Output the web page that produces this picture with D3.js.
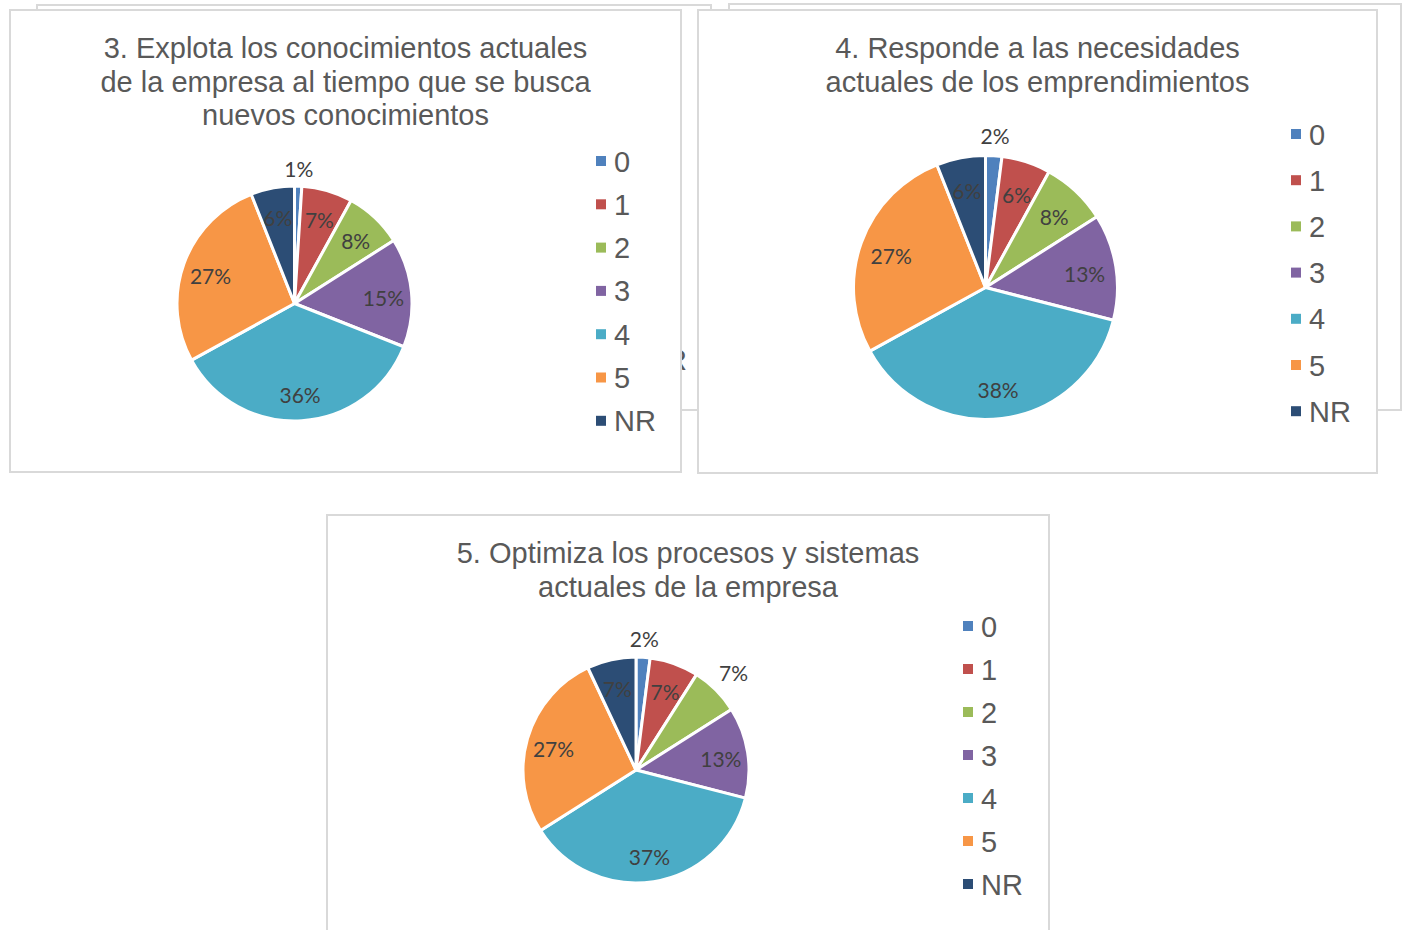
<!DOCTYPE html>
<html>
<head>
<meta charset="utf-8">
<script src="https://cdn.jsdelivr.net/npm/d3@7"></script>
<style>
body { margin: 0; background: #fff; }
</style>
</head>
<body>
<div id="chart"></div>
<script>
// categories and colours shared by the three pies
var categories = ["0", "1", "2", "3", "4", "5", "NR"];
var colors = ["#4F81BD", "#C0504D", "#9BBB59", "#8064A2", "#4BACC6", "#F79646", "#2C4D75"];

// percentages per question
var values3 = [1, 7, 8, 15, 36, 27, 6];
var values4 = [2, 6, 8, 13, 38, 27, 6];
var values5 = [2, 7, 7, 13, 37, 27, 7];

var title3 = ["3. Explota los conocimientos actuales", "de la empresa al tiempo que se busca", "nuevos conocimientos"];
var title4 = ["4. Responde a las necesidades", "actuales de los emprendimientos"];
var title5 = ["5. Optimiza los procesos y sistemas", "actuales de la empresa"];

var svg = d3.select("#chart").append("svg")
    .attr("width", 1405)
    .attr("height", 930);

var borderColor = "#d9d9d9";
var titleFont = "'Liberation Sans', Arial, sans-serif";
var labelFont = "Lato, 'Open Sans', sans-serif";

/*
 * frames of the charts lying behind, only edges and one legend entry peek out
 */
function drawBackFrame(x, y, w, h) {
    svg.append("rect")
        .attr("x", x).attr("y", y)
        .attr("width", w).attr("height", h)
        .attr("fill", "#fff")
        .attr("stroke", borderColor)
        .attr("stroke-width", 2);
}

drawBackFrame(37, 5, 674, 405);
svg.append("text")
    .attr("x", 645).attr("y", 370)
    .style("font-family", titleFont)
    .style("font-size", "29px")
    .attr("fill", "#595959")
    .text(categories[6]);
drawBackFrame(729, 4, 672, 406);

/**
 * draws one framed pie chart with title and legend
 */
function createPie(values, titleLines, opt) {
    var g = svg.append("g");

    g.append("rect")
        .attr("x", opt.frame[0]).attr("y", opt.frame[1])
        .attr("width", opt.frame[2]).attr("height", opt.frame[3])
        .attr("fill", "#fff")
        .attr("stroke", borderColor)
        .attr("stroke-width", 2);

    var titleX = opt.frame[0] + opt.frame[2] / 2;
    g.selectAll(".title")
        .data(titleLines)
        .enter().append("text")
        .attr("class", "title")
        .attr("x", titleX)
        .attr("y", function(d, i) { return opt.titleY + i * 33.5; })
        .attr("text-anchor", "middle")
        .style("font-family", titleFont)
        .style("font-size", "29px")
        .attr("fill", "#595959")
        .text(function(d) { return d; });

    var total = d3.sum(values);
    var pie = d3.pie().sort(null).value(function(d) { return d; });
    var arcs = pie(values);

    var arc = d3.arc().innerRadius(0).outerRadius(opt.r);
    var inLabel = d3.arc().innerRadius(opt.r * 0.76).outerRadius(opt.r * 0.76);

    var pieG = g.append("g")
        .attr("transform", "translate(" + opt.cx + "," + opt.cy + ")");

    pieG.selectAll(".slice")
        .data(arcs)
        .enter().append("path")
        .attr("class", "slice")
        .attr("d", arc)
        .attr("fill", function(d, i) { return colors[i]; })
        .attr("stroke", "#fff")
        .attr("stroke-width", 3)
        .attr("stroke-linejoin", "round");

    // small slices get their label outside the pie
    pieG.selectAll(".lbl")
        .data(arcs)
        .enter().append("text")
        .attr("class", "lbl")
        .attr("transform", function(d, i) {
            var p;
            if (opt.outside[i] !== undefined) {
                var rr = opt.r + opt.outside[i];
                p = d3.arc().innerRadius(rr).outerRadius(rr).centroid(d);
            } else {
                p = inLabel.centroid(d);
                p[1] += 2;
            }
            return "translate(" + p[0] + "," + p[1] + ")";
        })
        .attr("text-anchor", "middle")
        .attr("dominant-baseline", "central")
        .style("font-family", labelFont)
        .style("font-size", "21px")
        .attr("fill", "#404040")
        .text(function(d) { return d3.format(".0%")(d.data / total); });

    var legend = g.selectAll(".legend")
        .data(categories)
        .enter().append("g")
        .attr("class", "legend")
        .attr("transform", function(d, i) {
            return "translate(" + opt.legend[0] + "," + (opt.legend[1] + i * opt.legend[2]) + ")";
        });

    legend.append("rect")
        .attr("x", 0).attr("y", -5)
        .attr("width", 10).attr("height", 10)
        .attr("fill", function(d, i) { return colors[i]; });

    legend.append("text")
        .attr("x", 18)
        .attr("y", 10.5)
        .style("font-family", titleFont)
        .style("font-size", "29px")
        .attr("fill", "#595959")
        .text(function(d) { return d; });
}

createPie(values3, title3, {
    frame: [10, 10, 671, 462], titleY: 58,
    cx: 294.5, cy: 303.5, r: 117.5,
    legend: [596, 161, 43.3],
    outside: {0: 18}
});

createPie(values4, title4, {
    frame: [698, 10, 679, 463], titleY: 58,
    cx: 985.5, cy: 287.5, r: 132,
    legend: [1291, 134, 46.2],
    outside: {0: 20}
});

createPie(values5, title5, {
    frame: [327, 515, 722, 440], titleY: 563,
    cx: 636, cy: 770, r: 113,
    legend: [963, 626, 43],
    outside: {0: 19, 2: 25}
});
</script>
</body>
</html>
